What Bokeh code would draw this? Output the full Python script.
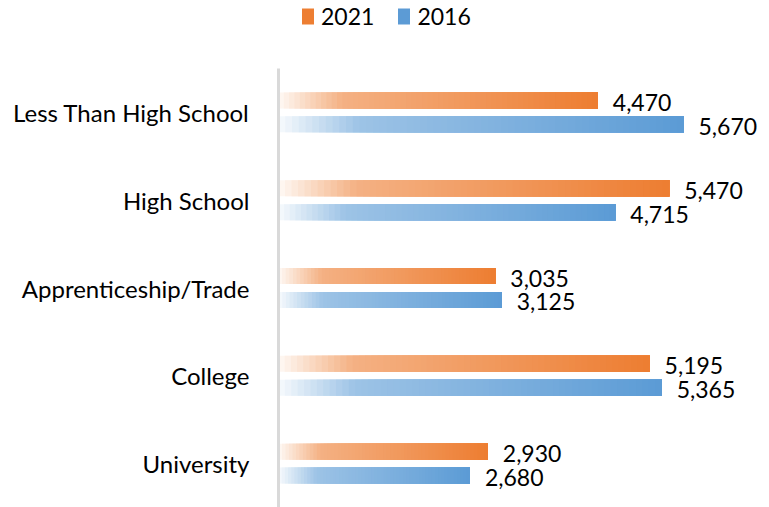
from bokeh.plotting import figure
from bokeh.models import ColumnDataSource, Range1d, Legend, LegendItem, FixedTicker
from bokeh.core.properties import value
from bokeh.embed import file_html
from bokeh.resources import INLINE

categories = ["Less Than High School", "High School", "Apprenticeship/Trade", "College", "University"]
series_names = ["2021", "2016"]
values_2021 = [4470, 5470, 3035, 5195, 2930]
values_2016 = [5670, 4715, 3125, 5365, 2680]

ORANGE = (237, 125, 49)
BLUE = (91, 155, 213)
FONT = "Lato"
N = 60
n = len(categories)
ypos = [n - i - 0.5 for i in range(n)]  # top category first


def mix(c, m):
    return "#%02x%02x%02x" % tuple(int(round(255 + (ch - 255) * m)) for ch in c)


def ramp(t):
    # white -> light tint quickly, then gradually to full colour
    if t < 0.2:
        return 0.05 + (0.6 - 0.05) * (t / 0.2)
    return 0.6 + 0.4 * (t - 0.2) / 0.8


def gradient_source(vals, base, off):
    y, left, right, col = [], [], [], []
    for yc, v in zip(ypos, vals):
        for i in range(N):
            y.append(yc + off)
            left.append(v * i / N)
            right.append(v)
            col.append(mix(base, ramp((i + 0.5) / N)))
    return ColumnDataSource(dict(y=y, left=left, right=right, color=col))


p = figure(
    width=765, height=507,
    y_range=Range1d(0, n + 68 / 87.8),
    x_range=Range1d(0, 6818),
    output_backend="svg", toolbar_location=None,
    min_border_left=278, min_border_top=0, min_border_bottom=0, min_border_right=0,
    outline_line_color=None,
)
p.xaxis.visible = False
p.xgrid.visible = False
p.ygrid.visible = False

ax = p.yaxis[0]
ax.bounds = (0, n)
ax.ticker = FixedTicker(ticks=ypos)
ax.major_label_overrides = {y: c for y, c in zip(ypos, categories)}
ax.axis_line_color = "#D9D9D9"
ax.axis_line_width = 3
ax.major_tick_line_color = None
ax.minor_tick_line_color = None
ax.major_label_standoff = 23
ax.major_label_text_font = FONT
ax.major_label_text_font_size = "24px"
ax.major_label_text_color = "#000000"

OFF = 0.136
H = 0.182
bar_renderers = []
for vals, base, off in [(values_2021, ORANGE, OFF), (values_2016, BLUE, -OFF)]:
    src = gradient_source(vals, base, off)
    r = p.hbar(y="y", left="left", right="right", height=H,
               fill_color="color", line_color=None, source=src)
    bar_renderers.append(r)
    lab = ColumnDataSource(dict(y=[yc + off for yc in ypos], x=vals, text=[f"{v:,}" for v in vals]))
    p.text(x="x", y="y", text="text", source=lab,
           x_offset=15, y_offset=2, text_baseline="middle", text_align="left",
           text_font=value(FONT), text_font_size="23px", text_color="#000000")

legend = Legend(
    items=[LegendItem(label=series_names[0], renderers=[bar_renderers[0]], index=N - 1),
           LegendItem(label=series_names[1], renderers=[bar_renderers[1]], index=N - 1)],
    orientation="horizontal", location=(22, 477),
    glyph_width=15, glyph_height=20, label_height=20, label_standoff=6, spacing=22,
    padding=0, margin=0, border_line_color=None, background_fill_alpha=0,
    label_text_font=FONT, label_text_font_size="23px", label_text_color="#000000",
)
p.add_layout(legend, "center")

open("out.html", "w").write(file_html(p, INLINE))
